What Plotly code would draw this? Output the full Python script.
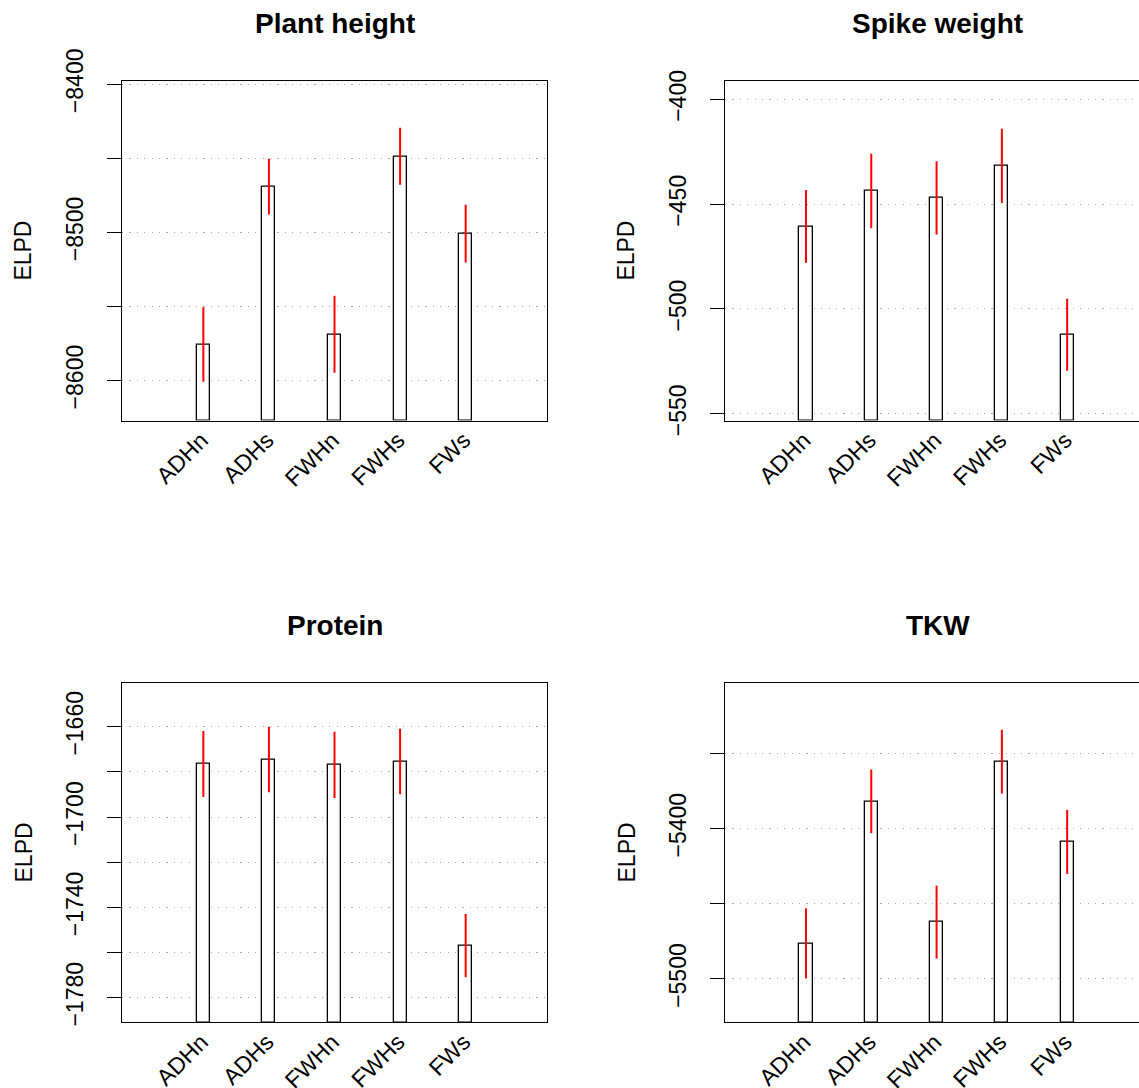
import plotly.graph_objects as go

W, H = 1139, 1088

categories = ["ADHn", "ADHs", "FWHn", "FWHs", "FWs"]
titles = ["Plant height", "Spike weight", "Protein", "TKW"]

plant_height = [-8575.7, -8469.1, -8568.8, -8448.6, -8500.8]
plant_height_err = [25.2, 18.8, 26.0, 19.2, 19.5]
spike_weight = [-460.6, -443.7, -447.0, -431.7, -512.3]
spike_weight_err = [17.3, 17.8, 17.5, 17.7, 17.2]
protein = [-1676.5, -1674.5, -1676.9, -1675.4, -1756.9]
protein_err = [14.6, 14.5, 14.7, 14.5, 14.0]
tkw = [-5476.3, -5381.9, -5462.2, -5355.5, -5408.9]
tkw_err = [23.3, 21.2, 24.3, 21.2, 21.3]

plant_height_ticks = [-8600, -8550, -8500, -8450, -8400]
plant_height_labels = ["\u22128600", "", "\u22128500", "", "\u22128400"]
spike_weight_ticks = [-550, -500, -450, -400]
spike_weight_labels = ["\u2212550", "\u2212500", "\u2212450", "\u2212400"]
protein_ticks = [-1780, -1760, -1740, -1720, -1700, -1680, -1660]
protein_labels = ["\u22121780", "", "\u22121740", "", "\u22121700", "", "\u22121660"]
tkw_ticks = [-5500, -5450, -5400, -5350]
tkw_labels = ["\u22125500", "", "\u22125400", ""]

values = [plant_height, spike_weight, protein, tkw]
errors = [plant_height_err, spike_weight_err, protein_err, tkw_err]
ticks = [plant_height_ticks, spike_weight_ticks, protein_ticks, tkw_ticks]
labels = [plant_height_labels, spike_weight_labels, protein_labels, tkw_labels]

# layout settings (pixel geometry of the panels)
y_ranges = [[-8627.0, -8397.6], [-553.2, -391.1], [-1790.9, -1640.5], [-5528.8, -5303.0]]
x_ranges = [[-1.24, 5.24], [-1.24, 5.10], [-1.24, 5.24], [-1.24, 5.10]]
x_dom_px = [[122, 547], [725, 1139], [122, 547], [725, 1139]]
y_dom_px = [[80.7, 420.5], [80.7, 420.5], [682.7, 1022.3], [682.7, 1022.3]]

FONT = "Liberation Sans, Arial, Helvetica, sans-serif"

fig = go.Figure()
annotations = []
for i in range(4):
    ax = "" if i == 0 else str(i + 1)
    ymin = y_ranges[i][0]
    fig.add_trace(go.Bar(
        x=categories,
        y=[v - ymin for v in values[i]],
        base=[ymin] * len(values[i]),
        width=0.2,
        marker=dict(color="white", line=dict(color="black", width=1.3)),
        error_y=dict(type="data", array=errors[i], color="red", thickness=2, width=0),
        xaxis="x" + ax, yaxis="y" + ax,
        showlegend=False,
    ))
    right = i in (1, 3)
    xd = [x_dom_px[i][0] / W, x_dom_px[i][1] / W]
    yd = [1 - y_dom_px[i][1] / H, 1 - y_dom_px[i][0] / H]
    fig.update_layout(**{
        "xaxis" + ax: dict(
            domain=xd, range=x_ranges[i], type="category", automargin=False,
            showline=True, mirror=True, linecolor="black", linewidth=1.4,
            showgrid=False, ticks="", tickangle=-45,
            ticklabelstandoff=-4, ticklabelshift=-2,
            tickfont=dict(family=FONT, size=23, color="black"),
            anchor="y" + ax,
        ),
        "yaxis" + ax: dict(
            domain=yd, range=y_ranges[i], automargin=False,
            showline=True, mirror=(not right), linecolor="black", linewidth=1.4,
            showgrid=True, gridcolor="#a8a8a8", griddash="1.2px,6.2px", gridwidth=1.3,
            zeroline=False,
            tickmode="array", tickvals=ticks[i], ticktext=labels[i],
            ticks="outside", ticklen=14, tickwidth=1.4, tickcolor="black",
            tickangle=-90, ticklabelstandoff=15,
            tickfont=dict(family=FONT, size=23, color="black"),
            anchor="x" + ax,
        ),
    })
    cx = (x_dom_px[i][0] + (x_dom_px[i][0] + 425)) / 2
    annotations.append(dict(
        text="<b>" + titles[i] + "</b>", x=cx / W, y=1 - (y_dom_px[i][0] - 57) / H,
        xref="paper", yref="paper", showarrow=False, xanchor="center", yanchor="middle",
        font=dict(family=FONT, size=28, color="black"),
    ))
    annotations.append(dict(
        text="ELPD", x=(x_dom_px[i][0] - 99) / W,
        y=1 - ((y_dom_px[i][0] + y_dom_px[i][1]) / 2) / H,
        xref="paper", yref="paper", showarrow=False, xanchor="center", yanchor="middle",
        textangle=-90, font=dict(family=FONT, size=23, color="black"),
    ))

fig.update_layout(
    width=W, height=H,
    margin=dict(l=0, r=0, t=0, b=0),
    paper_bgcolor="white", plot_bgcolor="white",
    annotations=annotations,
    bargap=0,
)
fig.write_html("out.html")
